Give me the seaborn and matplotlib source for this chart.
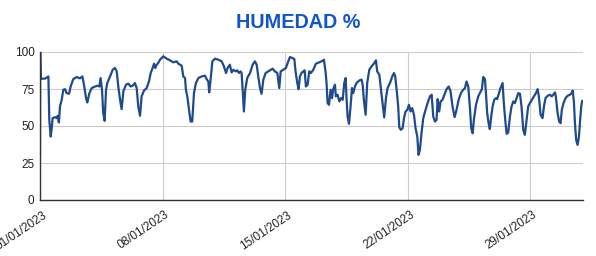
import matplotlib
matplotlib.use("Agg")
import matplotlib.pyplot as plt
import matplotlib.transforms as mtransforms
import matplotlib.dates as mdates
import numpy as np
import pandas as pd
import seaborn as sns

# Days since 2023-01-01 00:00
days = [
    0.00, 0.01, 0.04, 0.29, 0.48, 0.53, 0.61, 0.67, 0.72, 0.86, 0.95, 1.01, 1.08, 1.14, 1.24,
    1.33, 1.43, 1.52, 1.66, 1.75, 1.90, 2.09, 2.28, 2.42, 2.51, 2.63, 2.70, 2.82, 2.95, 3.14,
    3.29, 3.39, 3.46, 3.54, 3.61, 3.69, 3.77, 3.84, 4.00, 4.15, 4.28, 4.38, 4.47, 4.57, 4.66,
    4.76, 4.91, 5.04, 5.18, 5.29, 5.42, 5.52, 5.61, 5.71, 5.80, 5.94, 6.09, 6.22, 6.32, 6.43,
    6.51, 6.58, 6.66, 6.75, 6.85, 7.04, 7.23, 7.42, 7.61, 7.80, 7.90,
    8.09, 8.18, 8.28, 8.33, 8.41, 8.52, 8.60, 8.69, 8.79, 8.90, 9.04, 9.23, 9.42, 9.51, 9.61,
    9.66, 9.74, 9.84, 9.99, 10.18, 10.37, 10.50, 10.62, 10.71, 10.84, 10.94, 11.04, 11.17,
    11.26, 11.36, 11.45, 11.51, 11.57, 11.64, 11.72, 11.83, 11.99, 12.14, 12.27, 12.37, 12.46,
    12.56, 12.65, 12.75, 12.88, 13.03, 13.17, 13.28, 13.41, 13.55, 13.60, 13.66, 13.74, 13.89,
    14.04, 14.14, 14.27, 14.40, 14.52, 14.59, 14.69, 14.76, 14.84, 14.93, 15.03, 15.11, 15.18,
    15.28, 15.37, 15.47, 15.60, 15.75, 15.94, 16.08, 16.21, 16.31, 16.36, 16.42, 16.50, 16.59,
    16.67, 16.74, 16.84, 16.89, 16.99, 17.09, 17.18, 17.28, 17.37, 17.45, 17.50, 17.56, 17.64,
    17.73, 17.81, 17.88, 17.98, 18.07, 18.23, 18.36, 18.42, 18.49, 18.59, 18.68, 18.80, 18.93,
    19.06, 19.18, 19.25, 19.37, 19.46, 19.56, 19.65, 19.75, 19.84, 19.98, 20.11, 20.21, 20.28,
    20.36, 20.45, 20.51,
    20.60, 20.70, 20.78, 20.87, 20.97, 21.06, 21.16, 21.25, 21.35, 21.44, 21.54, 21.61, 21.69,
    21.78, 21.88, 22.01, 22.13, 22.26, 22.36, 22.45, 22.55, 22.64, 22.70, 22.79, 22.87, 22.98,
    23.12, 23.21, 23.33, 23.44, 23.55, 23.67, 23.78, 23.90, 24.03, 24.16, 24.26, 24.35, 24.45,
    24.54, 24.62, 24.70, 24.77, 24.89, 25.02, 25.11, 25.23, 25.30, 25.40, 25.46, 25.53, 25.61,
    25.68, 25.76, 25.84, 25.93, 26.03, 26.10, 26.20, 26.29, 26.41, 26.48, 26.56, 26.64, 26.73,
    26.83, 26.92, 27.02, 27.11, 27.21, 27.30, 27.40, 27.49, 27.59, 27.68, 27.78, 27.87, 27.97,
    28.08, 28.20, 28.31, 28.41, 28.48, 28.58, 28.69, 28.77, 28.86, 28.98, 29.11, 29.21, 29.30,
    29.40, 29.45, 29.55, 29.64, 29.72, 29.79, 29.89, 30.00, 30.12, 30.25, 30.35, 30.41, 30.48,
    30.54, 30.61, 30.69, 30.77, 30.83, 30.90, 30.95,
]

humedad = [
    30.5, 100.0, 82.0, 82.0, 83.5, 54.2, 42.9, 48.5, 55.3, 56.0, 55.3, 56.9, 52.4, 63.2, 67.7,
    74.5, 74.9, 72.2, 71.8, 76.7, 81.7, 83.1, 82.2, 83.5, 77.9, 68.8, 65.9, 72.2, 75.6, 76.7,
    77.2, 76.7, 82.4, 74.5, 58.7, 53.5, 74.5, 79.0, 83.5, 88.0, 89.2, 86.9, 76.7, 67.7, 61.4,
    73.4, 77.9, 78.6, 76.7, 77.2, 79.0, 75.6, 63.2, 56.9, 70.0, 74.0, 75.6, 80.1, 85.8, 89.2,
    92.1, 89.2, 91.4, 92.6, 94.8, 97.1, 95.5, 94.4, 93.0, 93.7, 92.1,
    90.7, 83.5, 82.4, 74.5, 70.0, 59.8, 53.0, 53.0, 72.2, 79.0, 82.4, 83.5, 84.0, 81.7, 80.1,
    72.7, 81.3, 93.7, 95.5, 94.8, 93.7, 90.3, 85.8, 89.2, 91.4, 86.2, 88.0, 86.9,
    87.6, 85.8, 86.9, 85.8, 74.5, 59.8, 74.5, 82.4, 85.8, 91.4, 93.7, 91.4, 83.5,
    75.6, 71.8, 81.3, 85.8, 86.9, 88.0, 88.7, 86.9, 85.8, 81.3, 75.6, 86.9, 88.0,
    89.2, 92.6, 96.6, 95.9, 95.3, 86.9, 79.0, 74.9, 83.5, 85.8, 86.9, 87.6, 76.7,
    77.9, 86.9, 85.8, 88.0, 92.1, 93.0, 93.7, 94.8, 85.8, 79.0, 65.5, 64.3, 74.5,
    68.8, 74.9, 77.9, 70.0, 71.1, 66.6, 68.8, 67.7, 79.0, 82.4, 68.8, 56.4, 51.5,
    63.2, 75.6, 72.2, 76.7, 79.0, 80.8, 81.3, 77.9, 67.7, 57.6, 79.0, 88.0, 90.3,
    92.1, 94.4, 86.9, 84.7, 75.6, 65.5, 55.8, 68.8, 75.6, 79.0, 83.5, 85.8, 83.5,
    74.5, 63.2, 49.2,
    47.4, 48.5, 55.3, 59.8, 60.9, 64.3, 59.8, 62.1, 57.6, 48.5, 42.9, 30.5, 33.9,
    45.1, 55.3, 60.9, 65.5, 70.0, 71.1, 56.4, 53.0, 54.2, 68.2, 59.8, 66.6, 67.7,
    72.2, 74.9, 76.7, 73.4, 63.2, 56.0, 60.9, 67.7, 72.2, 74.5, 75.6, 80.1, 76.7,
    63.2, 48.5, 45.1, 54.2, 64.3, 70.0, 72.2, 74.9, 83.1, 81.7, 72.2, 58.7, 51.9,
    47.9, 56.4, 63.2, 67.7, 68.8, 68.2, 72.2, 75.6, 79.0, 65.5, 54.2, 44.7, 45.6,
    56.4, 63.2, 66.6, 65.5, 68.8, 72.2, 71.8, 63.2, 47.4, 44.0, 54.2, 63.2, 65.5,
    67.7, 70.0, 72.2, 74.9, 70.0, 57.6, 55.3, 63.2, 68.8, 70.4, 71.1, 70.0, 71.1,
    72.7, 70.0, 58.7, 53.0, 51.9, 60.9, 65.5, 68.8, 70.4, 71.1, 72.2, 74.0, 66.6,
    51.9, 40.6, 37.2, 42.9, 53.0, 63.2, 67.0,
]

title = "HUMEDAD %"
y_ticks = [0, 25, 50, 75, 100]
x_tick_dates = ["2023-01-01", "2023-01-08", "2023-01-15", "2023-01-22", "2023-01-29"]

start = pd.Timestamp("2023-01-01")
df = pd.DataFrame({
    "fecha": start + pd.to_timedelta(days, unit="D"),
    "humedad": humedad,
})

sns.set_theme(style="white")
plt.rcParams["font.family"] = ["Liberation Sans", "DejaVu Sans"]

fig = plt.figure(figsize=(5.96, 2.56), dpi=100)
ax = fig.add_axes([40 / 596, 1 - 200 / 256, (583 - 40) / 596, (200 - 52) / 256])

sns.lineplot(data=df, x="fecha", y="humedad", ax=ax, color="#1f4a8c", linewidth=1.6)

ax.set_ylim(0, 100)
ax.set_xlim(start, pd.Timestamp("2023-02-01"))
ax.set_yticks(y_ticks)
ax.set_yticklabels([str(v) for v in y_ticks], fontsize=8.5, color="#222222")
xt = pd.to_datetime(x_tick_dates)
ax.set_xticks(xt)
ax.set_xticklabels([""] * len(xt))

# rotated date labels, ending just right of each weekly gridline
offset = mtransforms.ScaledTranslation(2 / 100, -9 / 100, fig.dpi_scale_trans)
for d in xt:
    ax.text(mdates.date2num(d), 0, d.strftime("%d/%m/%Y"),
            transform=ax.get_xaxis_transform() + offset,
            rotation=34, rotation_mode="anchor", ha="right", va="top",
            fontsize=8.5, color="#222222", clip_on=False)

ax.grid(True, color="#cccccc", linewidth=0.8)
ax.set_axisbelow(True)
ax.tick_params(axis="both", length=0, pad=4)
for s in ["top", "right"]:
    ax.spines[s].set_visible(False)
ax.spines["left"].set_color("#333333")
ax.spines["bottom"].set_color("#333333")
ax.spines["left"].set_linewidth(1.0)
ax.spines["bottom"].set_linewidth(1.0)
ax.set_xlabel("")
ax.set_ylabel("")

fig.text(0.5, 1 - 22 / 256, title, ha="center", va="center", fontsize=14.2,
         fontweight="bold", color="#1155cc")

fig.savefig("out.png", dpi=100)
